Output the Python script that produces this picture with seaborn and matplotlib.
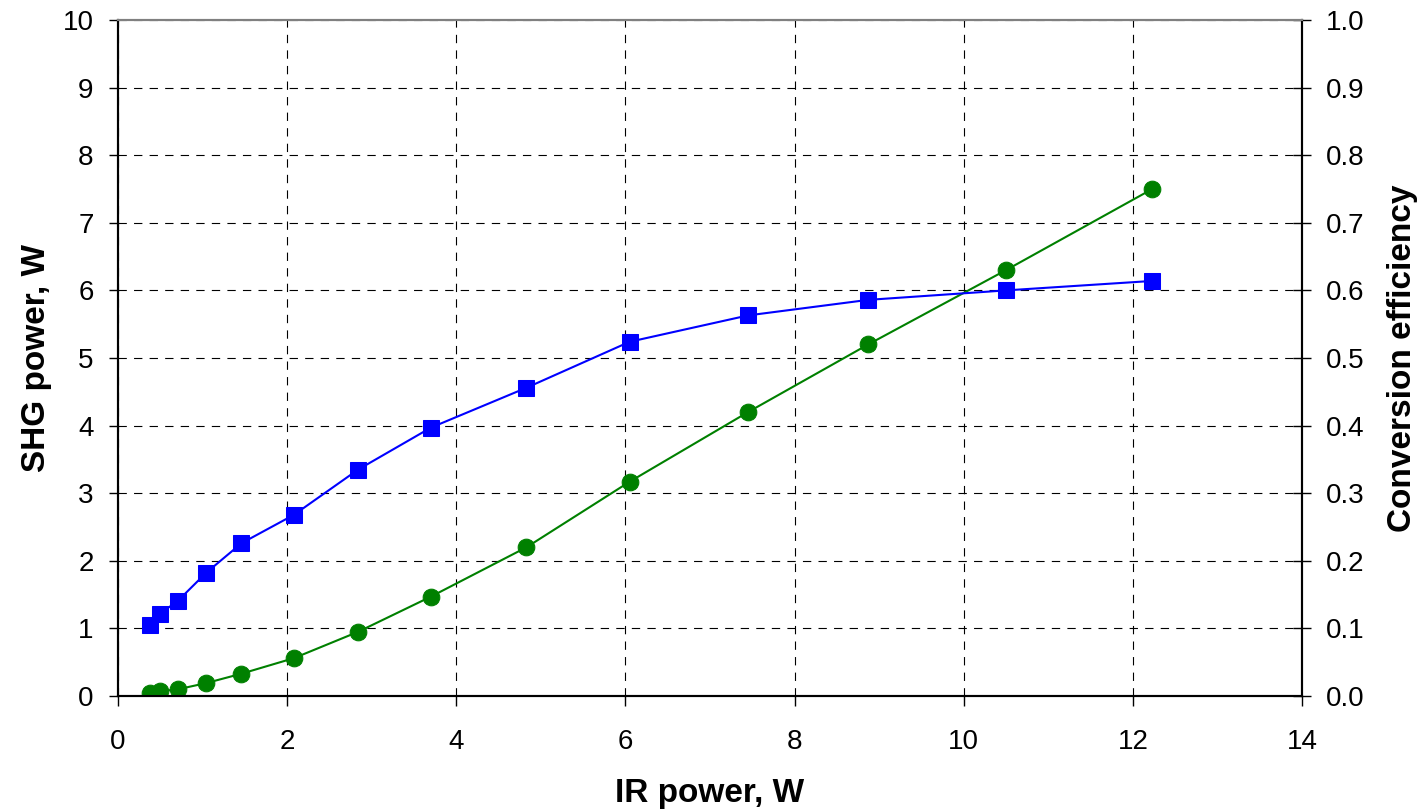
import matplotlib
matplotlib.use("Agg")
import matplotlib.pyplot as plt
import seaborn as sns

# --- DATA ---
ir_power = [0.38, 0.50, 0.71, 1.04, 1.46, 2.08, 2.84, 3.70, 4.83, 6.05, 7.45, 8.87, 10.50, 12.23]
shg_power = [0.04, 0.07, 0.10, 0.19, 0.33, 0.56, 0.95, 1.47, 2.20, 3.17, 4.20, 5.20, 6.30, 7.50]
efficiency = [0.105, 0.122, 0.141, 0.182, 0.226, 0.268, 0.335, 0.397, 0.456, 0.524,
              0.563, 0.586, 0.600, 0.614]

x_ticks = [0, 2, 4, 6, 8, 10, 12, 14]
left_ticks = list(range(0, 11))
right_ticks = [i / 10 for i in range(0, 11)]

sns.set_style("white")
plt.rcParams['font.family'] = ['Liberation Sans', 'DejaVu Sans']
plt.rcParams['text.color'] = 'black'
plt.rcParams['axes.labelcolor'] = 'black'
plt.rcParams['xtick.color'] = 'black'
plt.rcParams['ytick.color'] = 'black'

fig, ax = plt.subplots(figsize=(14.22, 8.11), dpi=100)
fig.subplots_adjust(left=118 / 1422, right=1302 / 1422, top=1 - 20 / 811, bottom=1 - 696 / 811)
ax2 = ax.twinx()

# SHG power (left axis)
sns.lineplot(x=ir_power, y=shg_power, ax=ax, color='green', linewidth=1.5,
             marker='o', markersize=12, markeredgecolor='green', sort=False, zorder=3)
# conversion efficiency (right axis)
sns.lineplot(x=ir_power, y=efficiency, ax=ax2, color='blue', linewidth=1.5,
             marker='s', markersize=11.5, markeredgecolor='blue', sort=False, zorder=3)

ax.set_xlim(0, 14)
ax.set_ylim(0, 10)
ax2.set_ylim(0, 1.0)
ax.set_xticks(x_ticks)
ax.set_yticks(left_ticks)
ax2.set_yticks(right_ticks)
ax2.set_yticklabels([f"{v:.1f}" for v in right_ticks])

ax.grid(True, color='black', linestyle=(0, (7.5, 6.5)), linewidth=0.8)
ax2.grid(False)

for a in (ax, ax2):
    for side in ('left', 'right', 'bottom'):
        a.spines[side].set_color('black')
        a.spines[side].set_linewidth(1.5)
    a.spines['top'].set_color('#808080')
    a.spines['top'].set_linewidth(1.5)

ax.tick_params(axis='y', direction='out', length=6.5, width=1, labelsize=20, pad=11, left=True)
ax.tick_params(axis='x', direction='out', length=7, width=1, labelsize=20, pad=17, bottom=True)
ax2.tick_params(axis='y', direction='inout', length=13, width=1, labelsize=20, pad=11, right=True)

ax.set_xlabel('IR power, W', fontsize=24, fontweight='bold', labelpad=16)
ax.set_ylabel('SHG power, W', fontsize=24, fontweight='bold', labelpad=8)
ax2.set_ylabel('Conversion efficiency', fontsize=24, fontweight='bold', labelpad=16)

fig.savefig('out.png', dpi=100)
